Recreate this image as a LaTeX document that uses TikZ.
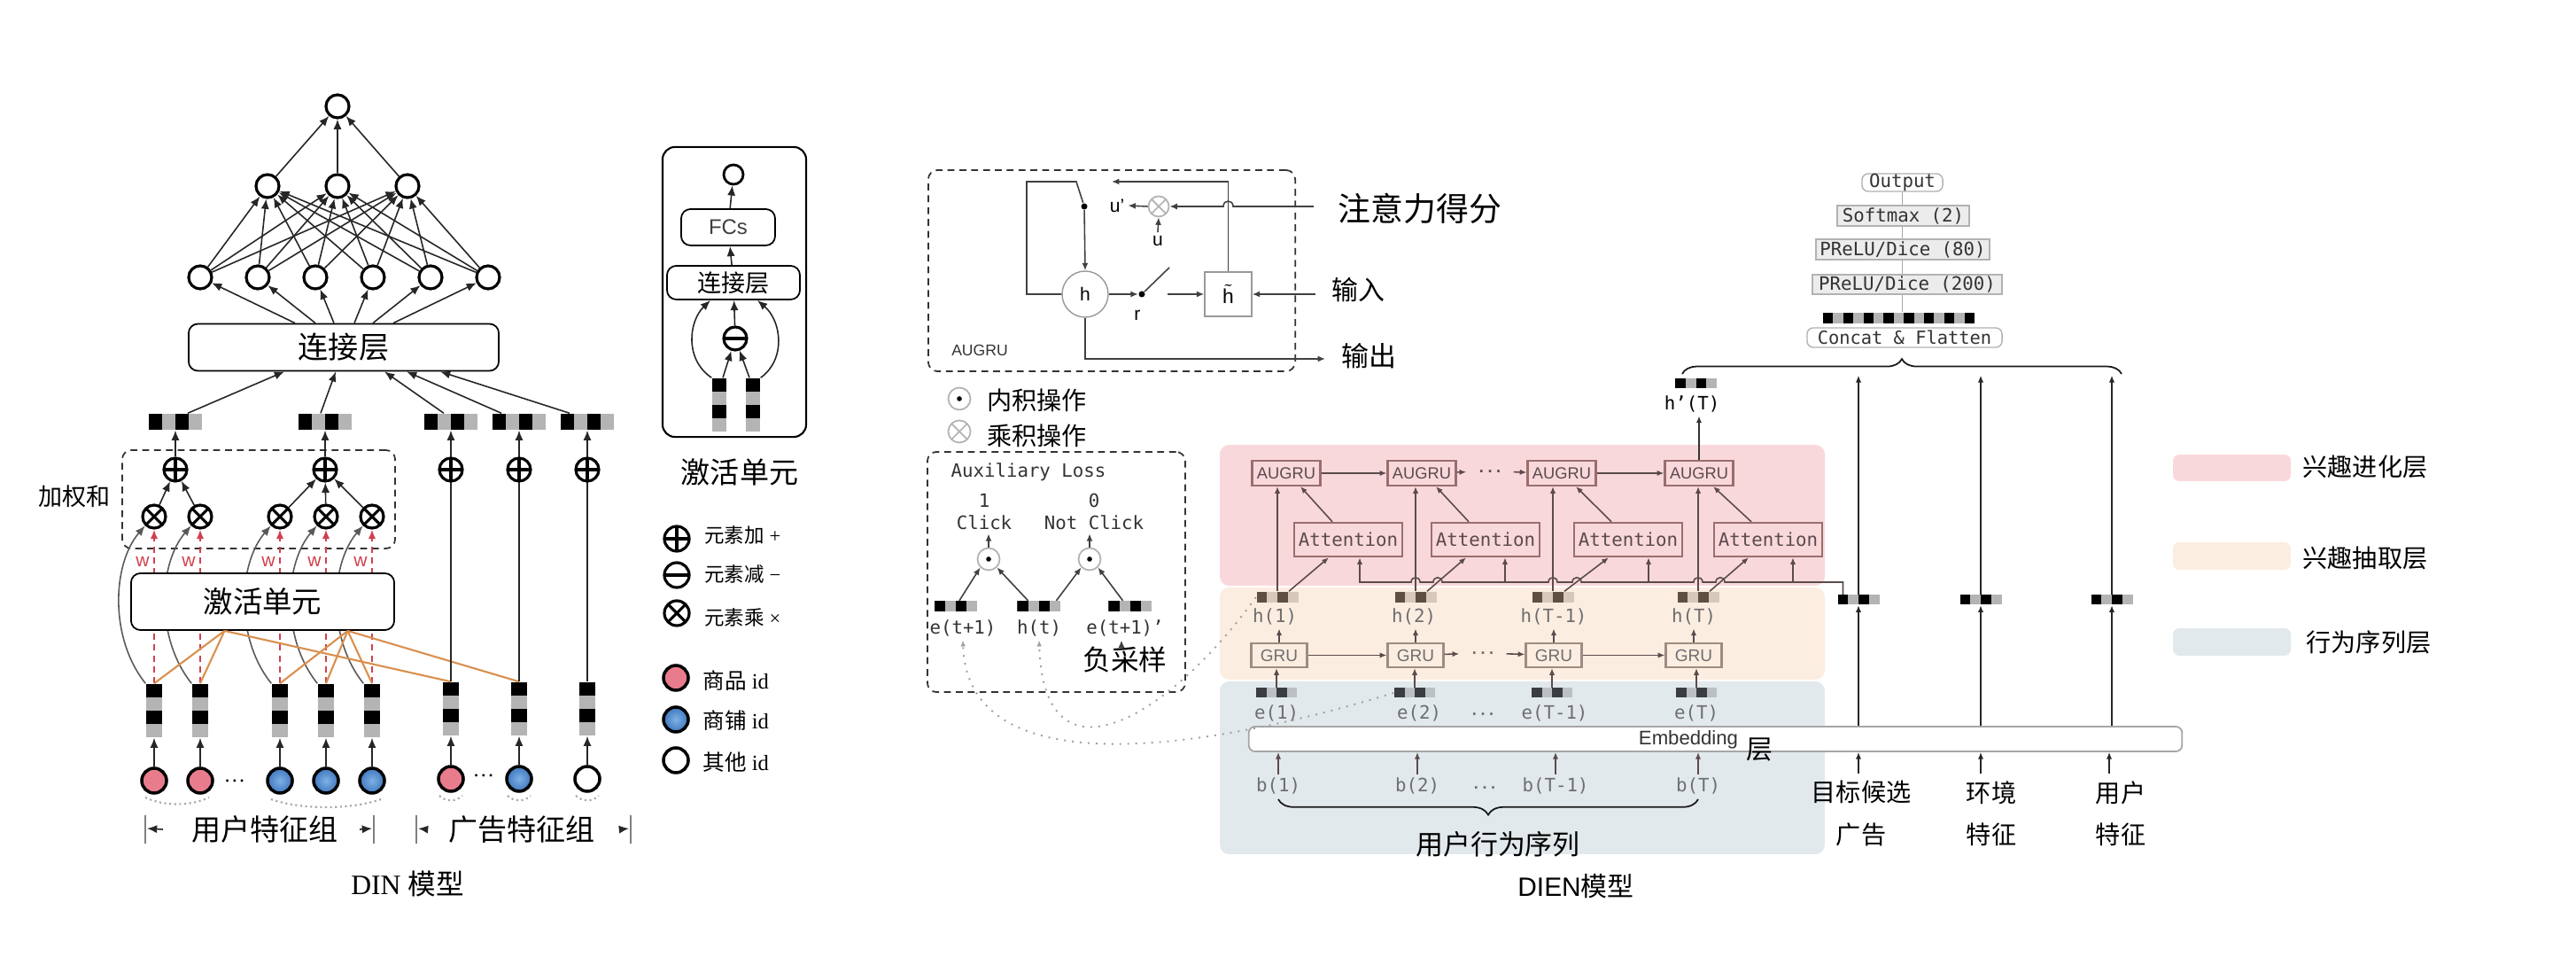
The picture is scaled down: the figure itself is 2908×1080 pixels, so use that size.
\documentclass[tikz,border=0pt]{standalone}
\usepackage{fontspec}
\setmainfont{Liberation Serif}
\setsansfont{Liberation Sans}
\setmonofont{DejaVu Sans Mono}
\newfontfamily\cjk{Noto Sans CJK SC}
\usetikzlibrary{arrows.meta,positioning,calc,decorations.pathreplacing}
\newcommand\fsz[1]{\fontsize{#1}{#1}\selectfont}
\definecolor{idPink}{HTML}{E97C8C}
\definecolor{idBlue}{HTML}{3F78BE}
\definecolor{idBlueLight}{HTML}{7FB0E6}
\definecolor{wRed}{HTML}{D0414F}
\definecolor{actOrange}{HTML}{D9904F}
\definecolor{vecGray}{HTML}{B4B4B4}
\definecolor{bandPink}{HTML}{F9D8DC}
\definecolor{bandPeach}{HTML}{FCEDE1}
\definecolor{bandBlue}{HTML}{E2E9EC}
\definecolor{rnnLine}{HTML}{9A6E6E}
\definecolor{rnnText}{HTML}{5B4B4B}
\definecolor{gruLine}{HTML}{9C8C82}
\definecolor{seqGray}{HTML}{6E6E6E}
\definecolor{hDark}{HTML}{5F4F43}
\definecolor{hLight}{HTML}{D6C8BD}
\definecolor{eDark}{HTML}{3B3E41}
\definecolor{eLight}{HTML}{BAC0C4}
\tikzset{
  vech/.style 2 args={fill=#2, inner sep=0pt, path picture={
    \fill[#1] (path picture bounding box.south west) rectangle ($(path picture bounding box.north west)!0.25!(path picture bounding box.north east)$);
    \fill[#1] ($(path picture bounding box.south west)!0.5!(path picture bounding box.south east)$) rectangle ($(path picture bounding box.north west)!0.75!(path picture bounding box.north east)$);}},
  vecv/.style 2 args={fill=#2, inner sep=0pt, path picture={
    \fill[#1] (path picture bounding box.north west) rectangle ($(path picture bounding box.north east)!0.25!(path picture bounding box.south east)$);
    \fill[#1] ($(path picture bounding box.north west)!0.5!(path picture bounding box.south west)$) rectangle ($(path picture bounding box.north east)!0.75!(path picture bounding box.south east)$);}},
  opc/.style={circle, draw, line width=0.9pt, fill=white, minimum size=0.26cm, inner sep=0pt},
  oplus/.style={opc, path picture={\draw[line width=0.9pt] (path picture bounding box.north) -- (path picture bounding box.south) (path picture bounding box.west) -- (path picture bounding box.east);}},
  ominus/.style={opc, path picture={\draw[line width=0.9pt] (path picture bounding box.west) -- (path picture bounding box.east);}},
  otimes/.style={opc, path picture={\draw[line width=0.9pt] (path picture bounding box.north west) -- (path picture bounding box.south east) (path picture bounding box.south west) -- (path picture bounding box.north east);}},
  dotop/.style={circle, draw=gray!60, line width=0.5pt, minimum size=0.25cm, inner sep=0pt, fill=white, path picture={\fill[black] (path picture bounding box.center) circle (0.8pt);}},
  smallx/.style={circle, draw=gray!60, line width=0.5pt, minimum size=0.23cm, inner sep=0pt, fill=white, path picture={\draw[gray!60, line width=0.5pt] (path picture bounding box.north west) -- (path picture bounding box.south east) (path picture bounding box.south west) -- (path picture bounding box.north east);}},
}

\begin{document}
\begin{tikzpicture}[x=0.01cm, y=-0.01cm,
  cir/.style={circle, draw, line width=0.9pt, fill=white, minimum size=0.26cm, inner sep=0pt},
  idc/.style={circle, draw, line width=1pt, minimum size=0.28cm, inner sep=0pt},
  pinkid/.style={idc, fill=idPink},
  blueid/.style={idc, inner color=idBlueLight, outer color=idBlue},
  whiteid/.style={idc, fill=white},
  dinarr/.style={-{Latex[length=3.2pt,width=2.6pt]}, line width=0.45pt, black!85},
  wline/.style={wRed, dash pattern=on 2pt off 1.5pt, line width=0.5pt, -{Latex[length=3pt,width=2.4pt]}},
  roundbox/.style={draw, rounded corners=3pt, fill=white, line width=0.5pt, inner sep=0pt},
  dashbox/.style={draw, gray!40!black, dash pattern=on 2.2pt off 1.6pt, rounded corners=3pt, line width=0.5pt},
  cell/.style={line width=0.45pt, black!75},
  cellarr/.style={cell, -{Latex[length=2.4pt,width=2pt]}},
  rnnl/.style={line width=0.45pt, rnnText},
  rnnarr/.style={rnnl, -{Latex[length=2.2pt,width=1.8pt]}},
  mono/.style={font=\ttfamily\fsz{5.9pt}, text=black!80, inner sep=1pt},
  seqlab/.style={font=\ttfamily\fsz{5.9pt}, text=seqGray, inner sep=1pt},
  stackbox/.style={draw=gray!60, fill=gray!15, font=\ttfamily\fsz{5.9pt}, text=black!80, inner sep=0pt, minimum height=0.22cm},
]
\useasboundingbox (0,0) rectangle (2908,1080);

% ---------------- DIN ----------------
\node[cir] (o) at (381,120) {};
\foreach \x [count=\i] in {302,381,460} \node[cir] (m\i) at (\x,210) {};
\foreach \x [count=\i] in {226,291,356,421,486,551} \node[cir] (n\i) at (\x,313) {};
\foreach \i in {1,...,6} {\foreach \j in {1,2,3} {\draw[dinarr] (n\i) -- (m\j);}}
\foreach \j in {1,2,3} \draw[dinarr] (m\j) -- (o);
\node[roundbox, minimum width=3.5cm, minimum height=0.53cm, font=\cjk\fsz{9.7pt}] (cat) at (388,392) {连接层};
\foreach \dx [count=\i] in {-55,-32,-11,12,33,56} \draw[dinarr] ($(cat.north)+(\dx,0)$) -- (n\i);

% pooled vectors
\foreach \x [count=\i] in {198,367,509,586,663} \node[vech={black}{vecGray}, minimum width=0.6cm, minimum height=0.18cm] (hb\i) at (\x,476) {};
\foreach \i/\sx/\ex in {1/14/-67,2/-5/-9,3/-8/46,4/-20/71,5/-20/109} \draw[dinarr] ($(hb\i.north)+(\sx,0)$) -- ($(cat.south)+(\ex,0)$);

% weighted sum
\node[dashbox, minimum width=3.08cm, minimum height=1.11cm] (wsum) at (292,563.5) {};
\node[font=\cjk\fsz{7.7pt}] (wlab) at (84,560) {加权和};

% embeddings and activation unit
\foreach \x [count=\i] in {174,226,316,368,420} \node[vecv={black}{vecGray}, minimum width=0.18cm, minimum height=0.6cm] (v\i) at (\x,802) {};
\foreach \x [count=\i] in {509,586,663} \node[vecv={black}{vecGray}, minimum width=0.18cm, minimum height=0.6cm] (va\i) at (\x,800) {};
\foreach \x [count=\i] in {174,226,316,368,420} \node[otimes] (p\i) at (\x,583) {};
\foreach \i in {1,...,5} {
  \draw[wline] (v\i.north) -- (p\i.south);
  \draw[dinarr, black!65] (v\i.north west) .. controls ($(v\i.north)+(-50,-50)$) and ($(p\i.south)+(-48,40)$) .. (p\i.south west);
  \node[text=wRed, font=\sffamily\fsz{6pt}] at ($(p\i.south)+(-13,36)$) {w};
}
\node[roundbox, minimum width=2.97cm, minimum height=0.64cm, font=\cjk\fsz{9.5pt}] (act) at (296.5,679) {激活单元};
\coordinate (oa) at ($(act.south)+(-43,0)$);
\coordinate (ob) at ($(act.south)+(96,0)$);
\foreach \n in {v1,v2,va1} \draw[actOrange, line width=0.6pt] (oa) -- (\n.north);
\foreach \n in {v3,v4,v5,va2} \draw[actOrange, line width=0.6pt] (ob) -- (\n.north);

% sum pooling
\foreach \i/\k in {1/3,2/4,3/5} \draw[dinarr] (va\i.north) -- (hb\k.south);
\foreach \x [count=\i] in {198,367,509,586,663} \node[oplus] (s\i) at (\x,530) {};
\foreach \i/\k in {1/1,2/1,3/2,4/2,5/2} \draw[dinarr] (p\i) -- (s\k);
\foreach \i in {1,2} \draw[dinarr] (s\i) -- (hb\i);

% id features
\foreach \x/\s [count=\i] in {174/pinkid,226/pinkid,316/blueid,368/blueid,420/blueid} {\node[\s] (c\i) at (\x,881) {}; \draw[dinarr] (c\i) -- (v\i);}
\foreach \x/\s [count=\i] in {509/pinkid,586/blueid,663/whiteid} {\node[\s] (ca\i) at (\x,879) {}; \draw[dinarr] (ca\i) -- (va\i);}
\node[font=\fsz{7pt}] (ud) at (265,881) {\dots};
\node[font=\fsz{7pt}] (ad) at (546,875) {\dots};
\draw[gray!70, densely dotted, line width=0.6pt] (164,900) .. controls (185,910) and (215,910) .. (236,900);
\draw[gray!70, densely dotted, line width=0.6pt] (306,902) .. controls (340,914) and (396,914) .. (430,902);
\foreach \x in {509,586,663} \draw[gray!70, densely dotted, line width=0.6pt] (\x-13,898) .. controls (\x-6,905) and (\x+6,905) .. (\x+13,898);

% group labels
\node[font=\cjk\fsz{9.4pt}] (ugrp) at (299,936) {用户特征组};
\node[font=\cjk\fsz{9.4pt}] (agrp) at (589,936) {广告特征组};
\coordinate (ul) at (166,935); \coordinate (ur) at (420,935);
\coordinate (al) at (472,935); \coordinate (ar) at (710,935);
\draw[gray, line width=0.6pt] (164,920) -- (164,952) (422,920) -- (422,952) (470,920) -- (470,952) (712,920) -- (712,952);
\draw[dinarr] ($(ugrp.west)+(-20,0)$) -- (ul);
\draw[dinarr] ($(ugrp.east)+(12,0)$) -- (ur);
\draw[dinarr] ($(agrp.west)+(-12,0)$) -- (al);
\draw[dinarr] ($(agrp.east)+(16,0)$) -- (ar);
\node[font=\fsz{9pt}] (dincap) at (460,997) {DIN {\cjk 模型}};

% activation unit detail
\node[draw, rounded corners=4pt, line width=0.6pt, minimum width=1.62cm, minimum height=3.27cm] (actbox) at (829,329.5) {};
\node[cir, minimum size=0.22cm, line width=0.8pt] (ao) at (828,197) {};
\node[roundbox, minimum width=1.06cm, minimum height=0.41cm, font=\sffamily\fsz{6.8pt}, text=black!75] (fcs) at (822,256.5) {FCs};
\node[roundbox, minimum width=1.5cm, minimum height=0.38cm, font=\cjk\fsz{7.7pt}] (cat2) at (828,319) {连接层};
\node[ominus] (sub) at (830,382) {};
\node[vecv={black}{vecGray}, minimum width=0.16cm, minimum height=0.6cm] (av1) at (812,457) {};
\node[vecv={black}{vecGray}, minimum width=0.16cm, minimum height=0.6cm] (av2) at (850,457) {};
\draw[dinarr] ($(av1.north)+(4,0)$) -- (sub);
\draw[dinarr] ($(av2.north)+(-4,0)$) -- (sub);
\draw[dinarr] (sub) -- (cat2);
\draw[dinarr] (cat2) -- (fcs);
\draw[dinarr] (fcs) -- (ao);
\draw[dinarr] (av1.north west) .. controls (772,405) and (778,362) .. ($(cat2.south)+(-26,0)$);
\draw[dinarr] (av2.north east) .. controls (888,405) and (882,362) .. ($(cat2.south)+(27,0)$);
\node[font=\cjk\fsz{9.4pt}] (actcap) at (835,533) {激活单元};

% legend
\node[oplus, minimum size=0.28cm] (lg1) at (764,608) {};
\node[ominus, minimum size=0.28cm] (lg2) at (764,649) {};
\node[otimes, minimum size=0.28cm] (lg3) at (764,692) {};
\node[pinkid] (lg4) at (763,765) {};
\node[blueid] (lg5) at (763,812) {};
\node[whiteid] (lg6) at (763,858) {};
\node[anchor=west, font=\fsz{6.4pt}] at (783,604) {{\cjk 元素加} +};
\node[anchor=west, font=\fsz{6.4pt}] at (783,648) {{\cjk 元素减} −};
\node[anchor=west, font=\fsz{6.4pt}] at (783,697) {{\cjk 元素乘} ×};
\node[anchor=west, font=\fsz{7pt}] at (781,768) {{\cjk 商品} id};
\node[anchor=west, font=\fsz{7pt}] at (781,813) {{\cjk 商铺} id};
\node[anchor=west, font=\fsz{7pt}] at (781,860) {{\cjk 其他} id};

% ---------------- DIEN ----------------
% AUGRU cell
\node[dashbox, minimum width=4.14cm, minimum height=2.27cm] (cellbox) at (1255,305.5) {};
\node[font=\sffamily\fsz{5pt}, text=black!80] (cellname) at (1106,395) {AUGRU};
\node[circle, draw=gray!80, fill=white, minimum size=0.52cm, inner sep=0pt, font=\sffamily\fsz{6pt}] (hc) at (1225,332) {h};
\node[draw=gray!80, minimum width=0.53cm, minimum height=0.5cm, inner sep=0pt, font=\fsz{6.5pt}] (ht) at (1386.5,332) {$\tilde{\textsf{h}}$};
\node[circle, fill=black, inner sep=0pt, minimum size=0.07cm] (rdot) at (1289,332) {};
\node[circle, fill=black, inner sep=0pt, minimum size=0.07cm] (udot) at (1224,233) {};
\node[font=\sffamily\fsz{6pt}] (rlab) at (1284,356) {r};
\node[smallx] (mul) at (1308,233) {};
\node[font=\sffamily\fsz{6pt}, inner sep=1pt] (ulab) at (1307,272) {u};
\node[font=\sffamily\fsz{6pt}, inner sep=1pt] (uplab) at (1261,232) {u’};
\node[anchor=west, font=\cjk\fsz{10.5pt}, inner sep=0pt] (attn) at (1510,235) {注意力得分};
\node[anchor=west, font=\cjk\fsz{8.5pt}, inner sep=0pt] (inp) at (1503,327) {输入};
\node[anchor=west, font=\cjk\fsz{8.8pt}, inner sep=0pt] (outp) at (1514,402) {输出};
\coordinate (sw1) at (1215,205);
\coordinate (sw2) at (1320,302);
\coordinate (sw3) at (1318,332);
\coordinate (fb) at (1255,205);
\draw[cell] (hc.west) -- (1159,332) -- (1159,205) -- (sw1) -- (udot);
\draw[cellarr] (udot) -- (hc.north);
\draw[cellarr] (ht.north) -- (ht.north |- fb) -- (fb);
\draw[cellarr] (hc.east) -- (rdot);
\draw[cell] (rdot) -- (sw2);
\draw[cellarr] (sw3) -- (ht.west);
\draw[cellarr] ($(inp.west)+(-18,5)$) -- (ht.east);
\draw[cellarr] ($(attn.west)+(-27,-2)$) -- (1392,233) .. controls (1392,225) and (1381,225) .. (1381,233) -- (mul.east);
\draw[cellarr] (mul.west) -- (uplab.east);
\draw[cellarr] (ulab.north) -- (mul.south);
\draw[cellarr] (hc.south) -- (1225,405) -- ($(outp.west)+(-18,3)$);

% operator legend
\node[dotop] (lgd) at (1083,450) {};
\node[anchor=west, font=\cjk\fsz{8pt}] at (1102,452) {内积操作};
\node[smallx, minimum size=0.25cm] (lgx) at (1083,487) {};
\node[anchor=west, font=\cjk\fsz{8pt}] at (1102,492) {乘积操作};

% auxiliary loss
\node[dashbox, minimum width=2.91cm, minimum height=2.71cm] (auxbox) at (1192.5,645.5) {};
\node[mono] (auxt) at (1161,533) {Auxiliary Loss};
\node[mono] (one) at (1111,565) {1};
\node[mono] (clk) at (1111,590) {Click};
\node[mono] (zero) at (1235,565) {0};
\node[mono] (nclk) at (1235,590) {Not Click};
\node[dotop] (d1) at (1116,631) {};
\node[dotop] (d2) at (1230,631) {};
\draw[cellarr] (d1) -- (d1 |- clk.south);
\draw[cellarr] (d2) -- (d2 |- nclk.south);
\node[vech={black}{vecGray}, minimum width=0.48cm, minimum height=0.12cm] (ae1) at (1079,684.5) {};
\node[vech={black}{vecGray}, minimum width=0.48cm, minimum height=0.12cm] (ah) at (1172.5,684.5) {};
\node[vech={black}{vecGray}, minimum width=0.48cm, minimum height=0.12cm] (ae2) at (1275.5,684.5) {};
\draw[cellarr] ($(ae1.north)+(4,0)$) -- (d1.south west);
\draw[cellarr] ($(ah.north)+(-12,0)$) -- (d1.south east);
\draw[cellarr] ($(ah.north)+(20,0)$) -- (d2.south west);
\draw[cellarr] ($(ae2.north)+(-8,0)$) -- (d2.south east);
\node[mono] (le1) at (1087,709) {e(t+1)};
\node[mono] (lh) at (1173,709) {h(t)};
\node[mono] (le2) at (1270,709) {e(t+1)’};
\node[font=\cjk\fsz{9pt}, inner sep=1pt] (neg) at (1270,744) {负采样};
\draw[cellarr] ($(neg.north)+(-4,2)$) -- ($(le2.south)+(-4,0)$);

% layer bands
\fill[bandPink, rounded corners=3pt] (1377,502) rectangle (2060,661);
\fill[bandPeach, rounded corners=3pt] (1377,663) rectangle (2060,767);
\fill[bandBlue, rounded corners=3pt] (1377,769) rectangle (2060,964);

% interest evolving layer
\foreach \x [count=\i] in {1452,1605,1763,1918} \node[draw=rnnLine, line width=0.6pt, inner sep=0pt, minimum width=0.77cm, minimum height=0.28cm, text=rnnText, font=\sffamily\fsz{5.2pt}] (au\i) at (\x,534) {AUGRU};
\foreach \x [count=\i] in {1522,1677,1838,1996} \node[draw=rnnLine, line width=0.7pt, inner sep=0pt, minimum width=1.22cm, minimum height=0.38cm, text=rnnText, font=\ttfamily\fsz{5.9pt}] (att\i) at (\x,609) {Attention};
\node[text=rnnText, font=\ttfamily\bfseries\fsz{4.5pt}] (audots) at (1682,532) {...};
\draw[rnnarr] (au1) -- (au2);
\draw[rnnarr] (au2) -- (audots);
\draw[rnnarr] (audots) -- (au3);
\draw[rnnarr] (au3) -- (au4);

% interest extractor layer
\foreach \x [count=\i] in {1442,1598,1753,1917} \node[vech={hDark}{hLight}, minimum width=0.47cm, minimum height=0.12cm] (hv\i) at (\x,674) {};
\foreach \x/\t [count=\i] in {1439/h(1),1596/h(2),1754/h(T-1),1912/h(T)} \node[seqlab] (hl\i) at (\x,696) {\t};
\foreach \x [count=\i] in {1444,1598,1754,1912} \node[draw=gruLine, line width=0.6pt, inner sep=0pt, minimum width=0.63cm, minimum height=0.27cm, text=seqGray, font=\sffamily\fsz{5.4pt}] (gru\i) at (\x,739.5) {GRU};
\node[text=seqGray, font=\ttfamily\bfseries\fsz{4.5pt}] (grudots) at (1674,737) {...};
\draw[rnnarr] (gru1) -- (gru2);
\draw[rnnarr] (gru2) -- (grudots);
\draw[rnnarr] (grudots) -- (gru3);
\draw[rnnarr] (gru3) -- (gru4);
\foreach \i in {1,...,4} {
  \draw[rnnarr] (gru\i.north) -- (gru\i.north |- hl\i.south);
  \draw[rnnarr] (hv\i.north) -- (hv\i.north |- au\i.south);
}
\foreach \i/\d in {1/-18,2/-19,3/-19,4/-19} \draw[rnnarr] ($(att\i.north)+(\d,0)$) -- ($(au\i.south)+(16,0)$);
\foreach \i in {1,...,4} \draw[rnnarr] ($(hv\i.north)+(13,0)$) -- ($(att\i.south)+(-22,0)$);

% behavior layer
\foreach \x [count=\i] in {1441,1597,1752,1915} \node[vech={eDark}{eLight}, minimum width=0.46cm, minimum height=0.11cm] (ev\i) at (\x,782) {};
\foreach \x/\t [count=\i] in {1441/e(1),1602/e(2),1755/e(T-1),1915/e(T)} \node[seqlab] (el\i) at (\x,805) {\t};
\node[seqlab, font=\ttfamily\bfseries\fsz{4.5pt}] (edots) at (1674,806) {...};
\foreach \i in {1,...,4} \draw[rnnarr] (ev\i.north) -- (ev\i.north |- gru\i.south);
\node[draw=gray!70, fill=white, rounded corners=2pt, line width=0.5pt, minimum width=10.53cm, minimum height=0.28cm, inner sep=0pt] (emb) at (1936.5,834) {};
\node[font=\sffamily\fsz{6.3pt}, text=black!80] (embt) at (1906,835) {Embedding};
\node[font=\cjk\fsz{8.5pt}] (ceng) at (1986,846) {层};
\foreach \x/\t [count=\i] in {1443/b(1),1600/b(2),1756/b(T-1),1917/b(T)} {\node[seqlab] (bl\i) at (\x,887) {\t}; \draw[rnnarr] (bl\i.north) -- (bl\i.north |- emb.south);}
\node[seqlab, font=\ttfamily\bfseries\fsz{4.5pt}] (bdots) at (1676,889) {...};
\draw[gray!20!black, line width=0.5pt, decorate, decoration={brace, amplitude=5pt}] (1917,902) -- (1443,902);
\node[font=\cjk\fsz{8.8pt}] (seqcap) at (1691,953) {用户行为序列};
\node[font=\fsz{8.5pt}] (diencap) at (1779,1000) {{\sffamily DIEN}{\cjk 模型}};

% attention query line
\draw[rnnl] (2080.5,671.5) -- (2080.5,657) foreach \hx in {1942,1917,1780,1753,1623,1598} { -- (\hx+5,657) .. controls (\hx+5,650) and (\hx-5,650) .. (\hx-5,657) } -- (1535,657);
\foreach \i/\d in {1/13,2/22,3/23,4/28} \draw[rnnarr] ($(att\i.south)+(\d,29)$) -- ($(att\i.south)+(\d,0)$);

% dotted links to auxiliary loss
\draw[gray!75, dotted, line width=0.55pt, -{Latex[length=2pt,width=1.6pt]}] (ev2.west) .. controls (1350,850) and (1092,885) .. (le1.south);
\draw[gray!75, dotted, line width=0.55pt, -{Latex[length=2pt,width=1.6pt]}] (hv1.west) .. controls (1320,810) and (1178,895) .. (lh.south);

% other features
\foreach \x [count=\i] in {2098,2236,2384} {
  \node[vech={black}{vecGray}, minimum width=0.47cm, minimum height=0.11cm] (f\i) at (\x,677) {};
  \draw[dinarr, line width=0.4pt, -{Latex[length=2.2pt,width=1.8pt]}] (f\i.south |- emb.north) -- (f\i.south);
  \draw[dinarr, line width=0.4pt, -{Latex[length=2.2pt,width=1.8pt]}] (f\i.north) -- ++(0,-247);
}
\node[font=\cjk\fontsize{8pt}{13.4pt}\selectfont, align=center] (ft1) at (2101,918) {目标候选\\广告};
\node[font=\cjk\fontsize{8pt}{13.4pt}\selectfont, align=center] (ft2) at (2248,918) {环境\\特征};
\node[font=\cjk\fontsize{8pt}{13.4pt}\selectfont, align=center] (ft3) at (2394,918) {用户\\特征};
\foreach \i/\d in {1/-3,2/-12,3/-13} \draw[dinarr, line width=0.4pt, -{Latex[length=2.2pt,width=1.8pt]}] ($(ft\i.north)+(\d,4)$) -- ($(ft\i.north |- emb.south)+(\d,0)$);

% output stack
\node[vech={black}{vecGray}, minimum width=0.47cm, minimum height=0.11cm] (hpv) at (1914.5,432.5) {};
\node[mono, text=black] (hpl) at (1910,456) {h’(T)};
\draw[rnnarr, black!80] (au4.north) -- (au4.north |- hpl.south);
\draw[gray!20!black, line width=0.5pt, decorate, decoration={brace, amplitude=4.8pt}] (1899,422) -- (2395,422);
\node[draw=gray!60, fill=white, rounded corners=2pt, font=\ttfamily\fsz{5.8pt}, text=black!80, inner sep=0pt, minimum width=2.2cm, minimum height=0.22cm] (cf) at (2150,381) {Concat \& Flatten};
\node[fill=vecGray, inner sep=0pt, minimum width=1.71cm, minimum height=0.12cm, path picture={\foreach \k in {0,...,7} \fill[black] ($(path picture bounding box.south west)+(\k*22.8,0)$) rectangle ++(11.4,-12);}] (cbar) at (2143.5,359) {};
\node[stackbox, minimum width=2.14cm] (p200) at (2153,321) {PReLU/Dice (200)};
\node[stackbox, minimum width=1.96cm, minimum height=0.23cm] (p80) at (2148,281.5) {PReLU/Dice (80)};
\node[stackbox, minimum width=1.49cm, minimum height=0.23cm] (smx) at (2148.5,243.5) {Softmax (2)};
\node[draw=gray!60, fill=white, rounded corners=2pt, font=\ttfamily\fsz{5.9pt}, text=black!80, inner sep=0pt, minimum width=0.91cm, minimum height=0.2cm] (outn) at (2147.5,206) {Output};
\draw[gray!70, line width=0.45pt] (cbar.north -| outn.south) -- (p200.south -| outn.south);
\draw[gray!70, line width=0.45pt] (p200.north -| outn.south) -- (p80.south -| outn.south);
\draw[gray!70, line width=0.45pt] (p80.north -| outn.south) -- (smx.south -| outn.south);
\draw[gray!70, line width=0.45pt] (smx.north -| outn.south) -- (outn.south);

% layer legend
\fill[bandPink, rounded corners=2pt] (2453,513) rectangle (2586,543);
\fill[bandPeach, rounded corners=2pt] (2453,612) rectangle (2586,643);
\fill[bandBlue, rounded corners=2pt] (2453,709) rectangle (2586,740);
\node[anchor=west, font=\cjk\fsz{8pt}, inner sep=0pt] (lgA) at (2599,527) {兴趣进化层};
\node[anchor=west, font=\cjk\fsz{8pt}, inner sep=0pt] (lgB) at (2599,630) {兴趣抽取层};
\node[anchor=west, font=\cjk\fsz{8pt}, inner sep=0pt] (lgC) at (2603,725) {行为序列层};
\end{tikzpicture}
\end{document}
